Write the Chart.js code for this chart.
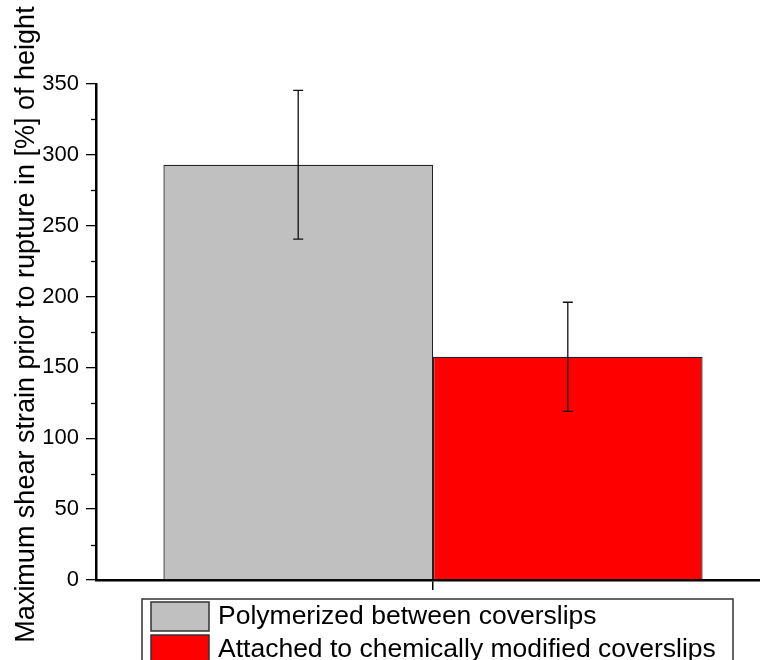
<!DOCTYPE html>
<html>
<head>
<meta charset="utf-8">
<script src="https://cdn.jsdelivr.net/npm/chart.js@4.4.1/dist/chart.umd.min.js"></script>
<style>
  html, body { margin: 0; padding: 0; background: #fff; overflow: hidden; }
  #wrap { width: 760px; height: 660px; overflow: hidden; }
</style>
</head>
<body>
<div id="wrap"><canvas id="chart" width="770" height="660"></canvas></div>
<script>
const seriesLabels = ["Polymerized between coverslips", "Attached to chemically modified coverslips"];
const seriesValues = [293, 157.5];
const seriesErrors = [52.5, 38.5];
const seriesColors = ["#C0C0C0", "#FF0000"];
const yTitle = "Maximum shear strain prior to rupture in [%] of height";

Chart.defaults.font.family = 'Arial, "Liberation Sans", sans-serif';
Chart.defaults.color = "#000";

// error bars, drawn on top of each bar
const errorBars = {
  id: 'errorBars',
  afterDatasetsDraw(chart) {
    const ctx = chart.ctx;
    const y = chart.scales.y;
    ctx.save();
    ctx.strokeStyle = "#111";
    ctx.lineWidth = 1.3;
    chart.data.datasets.forEach((ds, i) => {
      const bar = chart.getDatasetMeta(i).data[0];
      const v = ds.data[0];
      const top = y.getPixelForValue(v + seriesErrors[i]);
      const bot = y.getPixelForValue(v - seriesErrors[i]);
      ctx.beginPath();
      ctx.moveTo(bar.x, top); ctx.lineTo(bar.x, bot);
      ctx.moveTo(bar.x - 5, top); ctx.lineTo(bar.x + 5, top);
      ctx.moveTo(bar.x - 5, bot); ctx.lineTo(bar.x + 5, bot);
      ctx.stroke();
    });
    ctx.restore();
  }
};

// short minor ticks between the labelled ones
const minorTicks = {
  id: 'minorTicks',
  afterDraw(chart) {
    const ctx = chart.ctx;
    const y = chart.scales.y;
    const left = chart.chartArea.left;
    ctx.save();
    ctx.strokeStyle = "#000";
    ctx.lineWidth = 1.3;
    for (let v = y.min + 25; v < y.max; v += 50) {
      const py = Math.round(y.getPixelForValue(v)) + 0.5;
      ctx.beginPath();
      ctx.moveTo(left - 5, py); ctx.lineTo(left, py);
      ctx.stroke();
    }
    ctx.restore();
  }
};

// boxed legend under the axis
const boxLegend = {
  id: 'boxLegend',
  afterDraw(chart) {
    const ctx = chart.ctx;
    const top = chart.chartArea.bottom + 19;
    const left = 142, right = 733, rowH = 33;
    ctx.save();
    ctx.strokeStyle = "#333";
    ctx.lineWidth = 1.5;
    ctx.strokeRect(left, top, right - left, 100);
    ctx.font = '26.5px Arial, "Liberation Sans", sans-serif';
    ctx.textBaseline = 'middle';
    chart.data.datasets.forEach((ds, i) => {
      const ry = top + 3 + i * rowH;
      ctx.fillStyle = ds.backgroundColor;
      ctx.fillRect(151, ry, 58, 29);
      ctx.strokeRect(151, ry, 58, 29);
      ctx.fillStyle = "#000";
      ctx.fillText(ds.label, 218, ry + 15);
    });
    ctx.restore();
  }
};

new Chart(document.getElementById('chart'), {
  type: 'bar',
  data: {
    labels: [''],
    datasets: seriesLabels.map((label, i) => ({
      label: label,
      data: [seriesValues[i]],
      backgroundColor: seriesColors[i],
      borderColor: "#222",
      borderWidth: 1.3,
      barPercentage: 1,
      categoryPercentage: 0.8
    }))
  },
  options: {
    responsive: false,
    animation: false,
    devicePixelRatio: 1,
    layout: { padding: { top: 84, left: 0, right: 0, bottom: 0 } },
    plugins: { legend: { display: false }, tooltip: { enabled: false } },
    scales: {
      x: {
        afterFit(scale) { scale.height = 80; },
        grid: { drawOnChartArea: false, offset: false, tickLength: 10, color: "#000", lineWidth: 1.5 },
        border: { color: "#000", width: 2.5 },
        ticks: { display: true }
      },
      y: {
        min: 0, max: 350,
        afterFit(scale) { scale.width = 96; },
        ticks: { stepSize: 50, font: { size: 22 }, color: "#000", padding: 7 },
        grid: { drawOnChartArea: false, tickLength: 10, color: "#000", lineWidth: 1.3 },
        border: { color: "#000", width: 2.5 },
        // two leading spaces nudge the centred title up a little
        title: { display: true, text: "\u00A0\u00A0" + yTitle, font: { size: 27 }, color: "#000", padding: { top: 10, bottom: 0 } }
      }
    }
  },
  plugins: [errorBars, minorTicks, boxLegend]
});
</script>
</body>
</html>
